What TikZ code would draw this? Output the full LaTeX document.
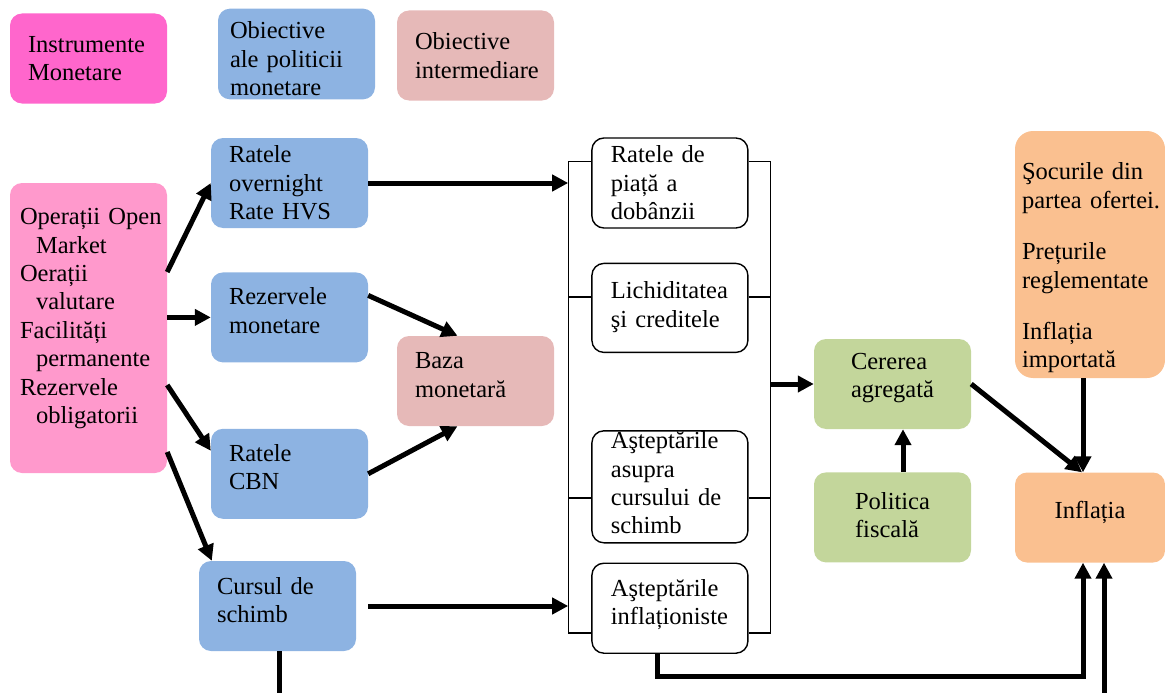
\documentclass[tikz,border=0pt]{standalone}
\usepackage{fontspec}
\setmainfont{Liberation Serif}
\usepackage{tikz}
\usetikzlibrary{arrows.meta,positioning,calc}
\definecolor{instrpink}{HTML}{FF99CC}
\definecolor{legpink}{HTML}{FF66CC}
\definecolor{polblue}{HTML}{8DB3E2}
\definecolor{introse}{HTML}{E6B9B8}
\definecolor{demgreen}{HTML}{C3D69B}
\definecolor{inforange}{HTML}{FAC090}
\newcommand{\lowstrut}[1]{\rule[-#1]{0pt}{#1}}

\begin{document}
\begin{tikzpicture}[x=1pt, y=-1pt, node distance=44pt and 223pt, every node/.style={font=\fontsize{24.5}{28.4}\selectfont}, box/.style={rounded corners=12pt, minimum height=90pt, inner xsep=18pt, text width=121pt, align=left}, cbox/.style={rounded corners=12pt, minimum width=157pt, minimum height=90pt, align=left}, wbox/.style={draw, line width=1.4pt, rounded corners=12pt, minimum height=90pt, inner ysep=0pt, inner xsep=19pt, text width=118pt, align=left}, lift/.style={text depth=#1}, arr/.style={line width=5pt, -{Triangle[length=16pt,width=16pt]}}, tie/.style={line width=1.4pt}]
\useasboundingbox (0,0) rectangle (1165,693);
\clip (0,0) rectangle (1165,693);
% legend
\node[box, fill=legpink] (legins) at (88.5,58.5) {Instrumente\\Monetare};
\node[box, fill=polblue, inner xsep=12pt, text width=133pt] (legpol) at (296.5,54) {\rule{0pt}{27pt}Obiective\\ale politicii\\monetare};
\node[box, fill=introse] (legint) at (475.5,55.5) {Obiective\\intermediare};
% instruments and operational targets
\node[box, fill=instrpink, minimum height=290pt, inner xsep=10pt, text width=137pt] (instr) at (88.5,328) {\mbox{Operații Open}\\\hspace*{16pt}Market\\Oerații\\\hspace*{16pt}valutare\\Facilități\\\hspace*{16pt}permanente\\Rezervele\\\hspace*{16pt}obligatorii\lowstrut{24pt}};
\node[box, fill=polblue] (ovn) at (289.5,183) {Ratele\\overnight\\Rate HVS};
\node[box, fill=polblue, below=of ovn] (rez) {Rezervele\\monetare\lowstrut{14pt}};
\node[box, fill=polblue, below=66pt of rez] (cbn) {Ratele\\CBN\lowstrut{14pt}};
\node[box, fill=polblue] (curs) at (277.5,606) {Cursul de\\schimb\lowstrut{12pt}};
\node[box, fill=introse] (baza) at (475.5,381) {Baza\\monetară\lowstrut{12pt}};
% transmission channels
\node[wbox, right=of ovn] (piata) {Ratele de\\piață a\\dobânzii};
\node[wbox, minimum height=89pt, below=34pt of piata] (lichid) {Lichiditatea\\şi creditele\lowstrut{7pt}};
\node[wbox, minimum height=112pt, below=77pt of lichid] (astcurs) {Aşteptările\\asupra\\cursului de\\schimb\lowstrut{8pt}};
\node[wbox, below=19pt of astcurs] (astinfl) {Aşteptările\\inflaționiste\lowstrut{12pt}};
\coordinate (bL) at ([xshift=-23pt,yshift=-24pt]piata.north west);
\coordinate (bR) at ([xshift=22pt,yshift=-24pt]piata.north east);
\coordinate (bLb) at ([xshift=-23pt,yshift=21pt]astinfl.south west);
\coordinate (bRb) at ([xshift=22pt,yshift=21pt]astinfl.south east);
% demand and inflation
\node[cbox, fill=demgreen, lift=17pt] (cerere) at (892.5,384) {Cererea\\agregată};
\node[cbox, fill=demgreen, lift=5pt, below=43pt of cerere] (fiscal) {Politica\\fiscală};
\node[box, fill=inforange, rounded corners=18pt, minimum height=247pt, inner ysep=0pt, inner xsep=7pt, text width=136pt] (socuri) at (1090,254.5) {\rule{0pt}{44pt}Şocurile din\\\mbox{partea ofertei.}\\[23pt]Prețurile\\reglementate\\[23pt]Inflația\\importată};
\node[cbox, fill=inforange, minimum width=150pt, align=center, lift=16pt] (infl) at (1090,517.5) {Inflația};
% bracket
\draw[tie] (piata.west |- bL) -- (bL) -- (bLb) -- (astinfl.west |- bLb);
\draw[tie] (piata.east |- bR) -- (bR) -- (bRb) -- (astinfl.east |- bRb);
\draw[tie] ([yshift=11pt]lichid.west) -- ++(-23,0);
\draw[tie] ([yshift=11pt]lichid.east) -- ++(22,0);
\draw[tie] ([yshift=-11pt]astcurs.west) -- ++(-23,0);
\draw[tie] ([yshift=-11pt]astcurs.east) -- ++(22,0);
% arrows
\draw[arr] ([yshift=56pt]instr.east) -- (ovn.west);
\draw[arr] (instr.east |- rez.west) -- (rez.west);
\draw[arr] ([yshift=-57pt]instr.east) -- ([yshift=23pt]cbn.west);
\draw[arr] ([yshift=-124pt]instr.east) -- ([xshift=13pt]curs.north west);
\draw[arr] ([yshift=22pt]rez.east) -- ([xshift=-18pt]baza.north);
\draw[arr] (cbn.east) -- ([xshift=-18pt]baza.south);
\draw[arr] (ovn.east) -- (ovn.east -| bL);
\draw[arr] ([xshift=12pt]curs.east) -- (curs.east -| bL);
\draw[arr] (cerere.west -| bR) -- (cerere.west);
\draw[arr] ([xshift=10.5pt]fiscal.north) -- ([xshift=10.5pt]cerere.south);
\draw[arr] (cerere.east) -- ([xshift=-8pt]infl.north);
\draw[arr] ([xshift=-7pt]socuri.south) -- ([xshift=-7pt]infl.north);
\draw[arr] ([xshift=-12pt]astinfl.south) -- ++(0,23) -| ([xshift=-7pt]infl.south);
\draw[arr] ([xshift=1.5pt]curs.south) -- ++(0,70) -| ([xshift=14pt]infl.south);
\end{tikzpicture}
\end{document}
